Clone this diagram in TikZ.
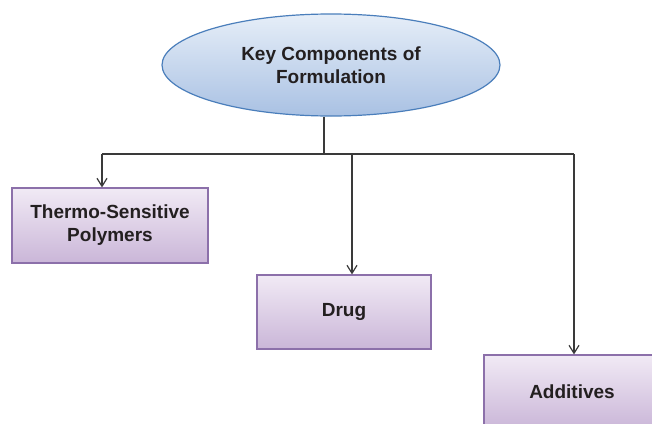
\documentclass[tikz,border=0pt]{standalone}
\usepackage{fontspec}
\setmainfont{Liberation Sans}
\usetikzlibrary{shapes.geometric,arrows.meta}
\definecolor{boxtop}{HTML}{F1EAF5}
\definecolor{boxbot}{HTML}{CAB6D8}
\definecolor{boxline}{HTML}{8C70AA}
\definecolor{elltop}{HTML}{E6EEF8}
\definecolor{ellbot}{HTML}{A9C1E3}
\definecolor{ellline}{HTML}{4A7EBB}
\definecolor{conn}{HTML}{3A3A3A}
\definecolor{txt}{HTML}{231F20}
\begin{document}
\begin{tikzpicture}[x=1pt,y=-1pt,
  labelfont/.style={font=\fontsize{19}{23}\selectfont\bfseries, text=txt, align=center},
  compbox/.style={rectangle, draw=boxline, line width=1.2pt, top color=boxtop, bottom color=boxbot, inner sep=0pt, labelfont},
  ellnode/.style={ellipse, draw=ellline, line width=1.2pt, top color=elltop, bottom color=ellbot, inner sep=0pt, minimum width=338pt, minimum height=102pt, labelfont},
  connline/.style={draw=conn, line width=1.3pt},
  arrline/.style={connline, -{Straight Barb[length=8pt,width=10pt,line width=1.2pt]}}
]
\useasboundingbox (0,0) rectangle (652,423);
\clip (0,0) rectangle (652,423);
\fill[white] (0,0) rectangle (652,423);

\node[ellnode] (top) at (331,65) {Key Components of\\Formulation};
\node[compbox, minimum width=196pt, minimum height=75pt] (tsp) at (110,225.5) {Thermo-Sensitive\\Polymers};
\node[compbox, minimum width=174pt, minimum height=74pt] (drug) at (344,312) {Drug};
\node[compbox, minimum width=176pt, minimum height=74pt] (add) at (572,392) {Additives};

\coordinate (hc) at (324,154);
\coordinate (hl) at (102,154);
\coordinate (hd) at (352,154);
\coordinate (hr) at (574,154);

\draw[connline] (hc |- top.south) -- (hc);
\draw[connline] (hl) -- (hr);
\draw[arrline] (hl) -- (hl |- tsp.north);
\draw[arrline] (hd) -- (hd |- drug.north);
\draw[arrline] (hr) -- (hr |- add.north);
\end{tikzpicture}
\end{document}
